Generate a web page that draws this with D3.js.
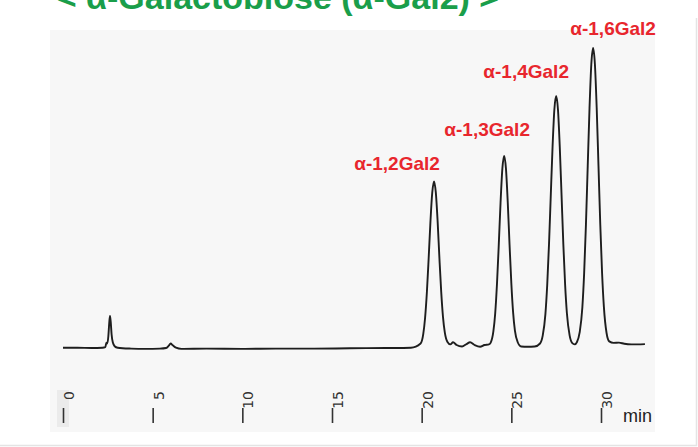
<!DOCTYPE html>
<html>
<head>
<meta charset="utf-8">
<script src="https://cdn.jsdelivr.net/npm/d3@7"></script>
<style>
body { margin: 0; background: #fff; }
svg { display: block; }
</style>
</head>
<body>
<svg width="698" height="447"></svg>
<script>
var width = 698;
var height = 447;

var titleText = "< α-Galactobiose (α-Gal2) >";
var axisUnit = "min";
var tickValues = [0, 5, 10, 15, 20, 25, 30];

// retention time (min) and detector signal (relative)
var traceTime = [0, 0.8, 1.6, 2.2, 2.36, 2.42, 2.47, 2.53, 2.58, 2.62, 2.66, 2.71, 2.78, 2.88, 3.05,
  3.8, 4.6, 5.4, 5.75, 5.9, 6.0, 6.12, 6.3, 6.6, 8.0, 10.0, 12.0, 14.0, 16.0, 18.0, 19.4,
  19.94, 20.09, 20.19, 20.29, 20.39, 20.49, 20.59, 20.69, 20.79, 20.89, 20.99, 21.09, 21.19, 21.29, 21.44,
  21.6, 21.75, 21.95, 22.25, 22.5, 22.7, 22.95, 23.26, 23.5, 23.75,
  23.85, 24.0, 24.1, 24.2, 24.3, 24.4, 24.5, 24.6, 24.7, 24.8, 24.9, 25.0, 25.1, 25.2, 25.35,
  25.55, 25.9, 26.3,
  26.6, 26.75, 26.9, 27.0, 27.1, 27.2, 27.3, 27.4, 27.5, 27.6, 27.7, 27.8, 27.9, 28.0, 28.1, 28.25, 28.4,
  28.53, 28.66, 28.81, 28.96, 29.06, 29.16, 29.26, 29.36, 29.46, 29.56, 29.66, 29.76, 29.86, 29.96, 30.06, 30.16, 30.31, 30.46,
  30.7, 31.0, 31.3, 31.7, 32.45];
var traceSignal = [0.1, 0.1, 0.0, 0.1, 0.3, 1.8, 1.5, 4.0, 8.5, 10.7, 8.8, 4.5, 1.8, 0.6, 0.1,
  -0.2, -0.3, -0.2, 0.0, 0.8, 1.5, 0.9, 0.1, -0.3, -0.2, -0.3, -0.2, -0.2, -0.1, 0.0, 0.1,
  1.5, 4.7, 10.0, 18.5, 29.9, 42.2, 51.8, 55.5, 51.8, 42.2, 29.9, 18.7, 10.3, 5.2, 2.0,
  1.2, 1.9, 1.0, 0.5, 1.3, 1.9, 1.0, 0.4, 1.0, 1.2,
  1.8, 5.6, 11.5, 21.4, 34.5, 48.6, 59.8, 64.0, 59.8, 48.6, 34.5, 21.6, 11.8, 5.8, 2.0,
  0.5, 0.4, 0.5,
  1.5, 4.1, 11.3, 20.9, 34.5, 51.0, 67.2, 79.5, 84.0, 79.5, 67.2, 51.0, 34.5, 21.0, 11.5, 4.2, 1.6,
  1.2, 2.0, 5.2, 13.5, 24.9, 41.1, 60.7, 80.0, 94.6, 100, 94.6, 80.0, 60.7, 41.1, 25.0, 13.8, 5.0, 2.2,
  1.7, 1.8, 1.4, 1.2, 1.3];

var peakNames = ["α-1,2Gal2", "α-1,3Gal2", "α-1,4Gal2", "α-1,6Gal2"];
var peakTimes = [20.69, 24.6, 27.5, 29.56];

// label placement relative to each peak
var labelDx = [-37, -17, -30, 20];
var labelY = [170, 136, 78, 35];

var trace = traceTime.map(function(t, i){ return {t: t, v: traceSignal[i]}; });

var xScale = d3.scaleLinear().domain([0, 30]).range([63, 601]);
var yScale = d3.scaleLinear().domain([0, 100]).range([348, 48]);

var svg = d3.select("svg");

// slide frame
svg.append("line").attr("x1", 0).attr("x2", 697).attr("y1", 445.5).attr("y2", 445.5)
  .style("stroke", "#e4e4e4").style("stroke-width", 1.5);
svg.append("line").attr("x1", 696.5).attr("x2", 696.5).attr("y1", 18).attr("y2", 446)
  .style("stroke", "#e4e4e4").style("stroke-width", 1.5);

// scanned figure background
svg.append("rect").attr("x", 50).attr("y", 30).attr("width", 605).attr("height", 402)
  .style("fill", "#f7f7f7");
svg.append("rect").attr("x", xScale(0) - 6).attr("y", 390).attr("width", 12).attr("height", 37)
  .style("fill", "#ebebeb");

svg.append("text")
  .attr("x", 278).attr("y", 9)
  .attr("text-anchor", "middle")
  .style("font-family", "Liberation Sans, Arial, sans-serif")
  .style("font-weight", "bold")
  .style("font-size", "34px")
  .style("fill", "#1a9e4a")
  .text(titleText);

// time axis: ticks with labels rotated above them
var xAxis = d3.axisBottom(xScale).tickValues(tickValues).tickSize(15).tickFormat("");
var axisG = svg.append("g").attr("id", "xAxisG").attr("transform", "translate(0,408)").call(xAxis);
axisG.select(".domain").remove();
axisG.selectAll(".tick line").style("stroke", "#333").style("stroke-width", 1.6);

svg.append("g").attr("id", "tickLabelsG")
  .selectAll("text")
  .data(tickValues)
  .enter()
  .append("text")
  .attr("transform", function(d){ return "translate(" + (xScale(d) + 11) + ",391) rotate(-90)"; })
  .attr("text-anchor", "end")
  .style("font-family", "DejaVu Sans, sans-serif")
  .style("font-size", "14px")
  .style("fill", "#333")
  .text(function(d){ return d; });

svg.append("text")
  .attr("x", 623).attr("y", 422)
  .style("font-family", "Liberation Sans, Arial, sans-serif")
  .style("font-size", "18px")
  .style("fill", "#222")
  .text(axisUnit);

var line = d3.line()
  .x(function(d){ return xScale(d.t); })
  .y(function(d){ return yScale(d.v); })
  .curve(d3.curveMonotoneX);

svg.append("path")
  .datum(trace)
  .attr("d", line)
  .style("fill", "none")
  .style("stroke", "#1e1e1e")
  .style("stroke-width", 1.9)
  .style("stroke-linejoin", "round");

svg.append("g").attr("id", "peakLabelsG")
  .selectAll("text")
  .data(peakNames)
  .enter()
  .append("text")
  .attr("x", function(d, i){ return xScale(peakTimes[i]) + labelDx[i]; })
  .attr("y", function(d, i){ return labelY[i]; })
  .attr("text-anchor", "middle")
  .style("font-family", "Liberation Sans, Arial, sans-serif")
  .style("font-weight", "bold")
  .style("font-size", "19px")
  .style("fill", "#e8262d")
  .text(function(d){ return d; });
</script>
</body>
</html>
